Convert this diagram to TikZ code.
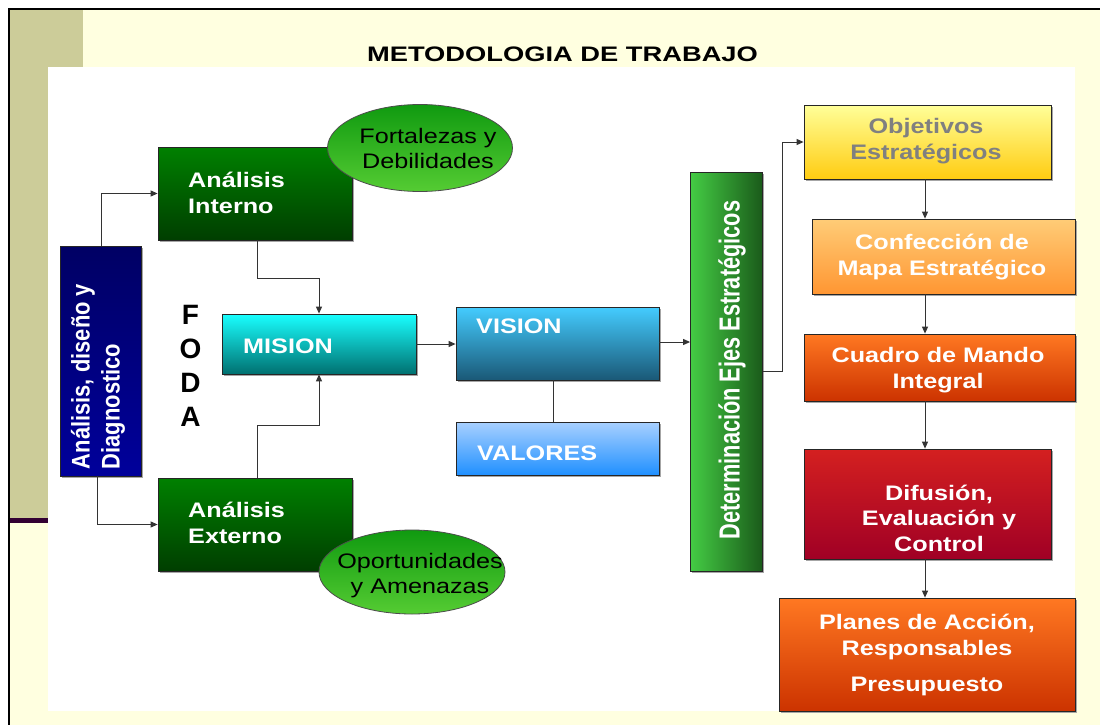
\documentclass[tikz,border=0pt]{standalone}
\usepackage{fontspec}
\usepackage{graphicx}
\setmainfont{Liberation Sans}
\newfontfamily\boxfont{Liberation Sans}[FakeStretch=1.2]
\newfontfamily\titlefont{Liberation Sans}[FakeStretch=1.3]
\newfontfamily\vfontA{Liberation Sans}[FakeStretch=0.86]
\newfontfamily\vfontB{Liberation Sans}[FakeStretch=0.75]
\usetikzlibrary{arrows.meta,shapes.geometric,shadows,calc}
\definecolor{bgyellow}{HTML}{FFFFE0}
\definecolor{olive}{HTML}{CCCC99}
\definecolor{darkpurple}{HTML}{330033}
\definecolor{linegray}{HTML}{333333}
\definecolor{objgray}{HTML}{808080}
\begin{document}
\begin{tikzpicture}[x=1pt,y=-1pt,
  conn/.style={draw=linegray, line width=1pt, -{Triangle[length=7pt,width=6pt]}},
  link/.style={draw=linegray, line width=1pt},
  box/.style={draw=black!85, line width=0.8pt, inner sep=0pt,
    drop shadow={shadow xshift=1.5pt, shadow yshift=-1.5pt, fill=black!35, opacity=1}},
  oval/.style={ellipse, draw=black!70, line width=0.8pt, inner sep=0pt,
    top color=ovtop, bottom color=ovbot},
  wtxt/.style={text=white, inner sep=0pt, font=\boxfont\bfseries\fontsize{21}{25.5}\selectfont},
  otxt/.style={text=black, inner sep=0pt, align=center, font=\boxfont\fontsize{21}{25}\selectfont}]
\definecolor{ovtop}{HTML}{109A10}
\definecolor{ovbot}{HTML}{55CC33}
% background
\useasboundingbox (0,0) rectangle (1100,725);
\fill[white] (0,0) rectangle (1100,725);
\fill[bgyellow] (10,10) rectangle (1100,725);
\fill[olive] (10,10) rectangle (83,67);
\fill[olive] (10,67) rectangle (48,518);
\fill[darkpurple] (10,518) rectangle (48,523);
\fill[white] (48,67) rectangle (1075,711);
\draw[black, line width=2.5pt] (9,725) -- (9,9) -- (1100,9);
% title
\node[font=\titlefont\bfseries\fontsize{21}{25}\selectfont, anchor=base, inner sep=0pt] (title) at (562.5,62) {METODOLOGIA DE TRABAJO};
% left column
\node[box, minimum width=81pt, minimum height=230pt, top color={rgb,255:red,0;green,0;blue,100}, bottom color={rgb,255:red,0;green,0;blue,155}] (blue) at (101,361) {};
\node[rotate=90, text=white, align=left, inner sep=0pt, font=\vfontA\bfseries\fontsize{25.5}{30}\selectfont] (bluetxt) at (98,376.5) {Análisis, diseño y\\Diagnostico};
\node[box, minimum width=194pt, minimum height=93pt, top color={rgb,255:red,0;green,128;blue,0}, bottom color={rgb,255:red,0;green,62;blue,0}] (intern) at (255,193.5) {};
\node[wtxt, anchor=west, align=left] (interntxt) at (188,193) {Análisis\\Interno};
\node[box, minimum width=194pt, minimum height=93pt, top color={rgb,255:red,0;green,128;blue,0}, bottom color={rgb,255:red,0;green,62;blue,0}] (extern) at (255,524.5) {};
\node[wtxt, anchor=west, align=left] (externtxt) at (188,523) {Análisis\\Externo};
\node[oval, minimum width=185pt, minimum height=87pt] (fort) at (420,148) {};
\node[otxt] (forttxt) at (428,148) {Fortalezas y\\Debilidades};
\node[oval, minimum width=186pt, minimum height=84pt] (oport) at (412,572) {};
\node[otxt] (oporttxt) at (420,576) {Oportunidades\\y Amenazas};
% FODA
\node[font=\bfseries\fontsize{28}{34}\selectfont, align=center, inner sep=0pt] (foda) at (190.5,366) {F\\O\\D\\A};
% center
\node[box, minimum width=194pt, minimum height=60pt, top color={rgb,255:red,25;green,255;blue,255}, bottom color={rgb,255:red,0;green,112;blue,112}] (mision) at (319,344) {};
\node[wtxt, anchor=west] (misiontxt) at (243,346) {MISION};
\node[box, minimum width=203pt, minimum height=73pt, top color={rgb,255:red,68;green,204;blue,255}, bottom color={rgb,255:red,26;green,88;blue,118}] (vision) at (557.5,343.5) {};
\node[wtxt, anchor=west] (visiontxt) at (476,326) {VISION};
\node[box, minimum width=203pt, minimum height=53pt, top color={rgb,255:red,168;green,208;blue,255}, bottom color={rgb,255:red,32;green,144;blue,255}] (valores) at (557.5,448.5) {};
\node[wtxt, anchor=west] (valorestxt) at (477,453) {VALORES};
% green bar
\node[box, minimum width=72pt, minimum height=399pt, left color={rgb,255:red,68;green,204;blue,68}, right color={rgb,255:red,26;green,90;blue,26}] (ejes) at (726.5,371.5) {};
\node[rotate=90, text=white, inner sep=0pt, font=\vfontB\bfseries\fontsize{29}{32}\selectfont] (ejestxt) at (732,370) {Determinación Ejes Estratégicos};
% right column
\node[box, minimum width=247pt, minimum height=74pt, top color={rgb,255:red,255;green,255;blue,153}, bottom color={rgb,255:red,255;green,204;blue,17}] (obj) at (927.5,142) {};
\node[wtxt, text=objgray, align=center] (objtxt) at (926,141) {Objetivos\\Estratégicos};
\node[box, minimum width=263pt, minimum height=75pt, top color={rgb,255:red,255;green,204;blue,119}, bottom color={rgb,255:red,255;green,150;blue,50}] (conf) at (943.5,256.5) {};
\node[wtxt, align=center] (conftxt) at (942,257) {Confección de\\Mapa Estratégico};
\node[box, minimum width=271pt, minimum height=67pt, top color={rgb,255:red,255;green,120;blue,34}, bottom color={rgb,255:red,204;green,51;blue,0}] (cuadro) at (939.5,367.5) {};
\node[wtxt, align=center] (cuadrotxt) at (938,370) {Cuadro de Mando\\Integral};
\node[box, minimum width=247pt, minimum height=110pt, top color={rgb,255:red,212;green,32;blue,32}, bottom color={rgb,255:red,160;green,0;blue,37}] (difu) at (927.5,504) {};
\node[wtxt, align=center] (difutxt) at (939,518) {Difusión,\\Evaluación y\\Control};
\node[box, minimum width=296pt, minimum height=113pt, top color={rgb,255:red,255;green,120;blue,34}, bottom color={rgb,255:red,204;green,51;blue,0}] (planes) at (927,654.5) {};
\node[wtxt, align=center] (planestxt) at (927,655) {Planes de Acción,\\Responsables\\[11pt]Presupuesto};
% connectors
\coordinate (ax) at (925,300);
\draw[conn] (blue.north) |- (intern.west);
\draw[conn] ([xshift=-4pt]blue.south) |- (extern.west);
\draw[conn] ([xshift=2pt]intern.south) -- ++(0,38) -| (mision.north);
\draw[conn] ([xshift=2pt]extern.north) -- ++(0,-52) -| (mision.south);
\draw[conn] (mision.east) -- (vision.west |- mision.east);
\draw[link] ([xshift=-4.5pt]vision.south) -- ([xshift=-4.5pt]valores.north);
\draw[conn] ([yshift=1.5pt]vision.east) -- ([yshift=1.5pt]vision.east -| ejes.west);
\draw[conn] (ejes.east) -- ++(20,0) |- (obj.west);
\draw[conn] (ax |- obj.south) -- (ax |- conf.north);
\draw[conn] (ax |- conf.south) -- (ax |- cuadro.north);
\draw[conn] (ax |- cuadro.south) -- (ax |- difu.north);
\draw[conn] (ax |- difu.south) -- (ax |- planes.north);
\end{tikzpicture}
\end{document}
